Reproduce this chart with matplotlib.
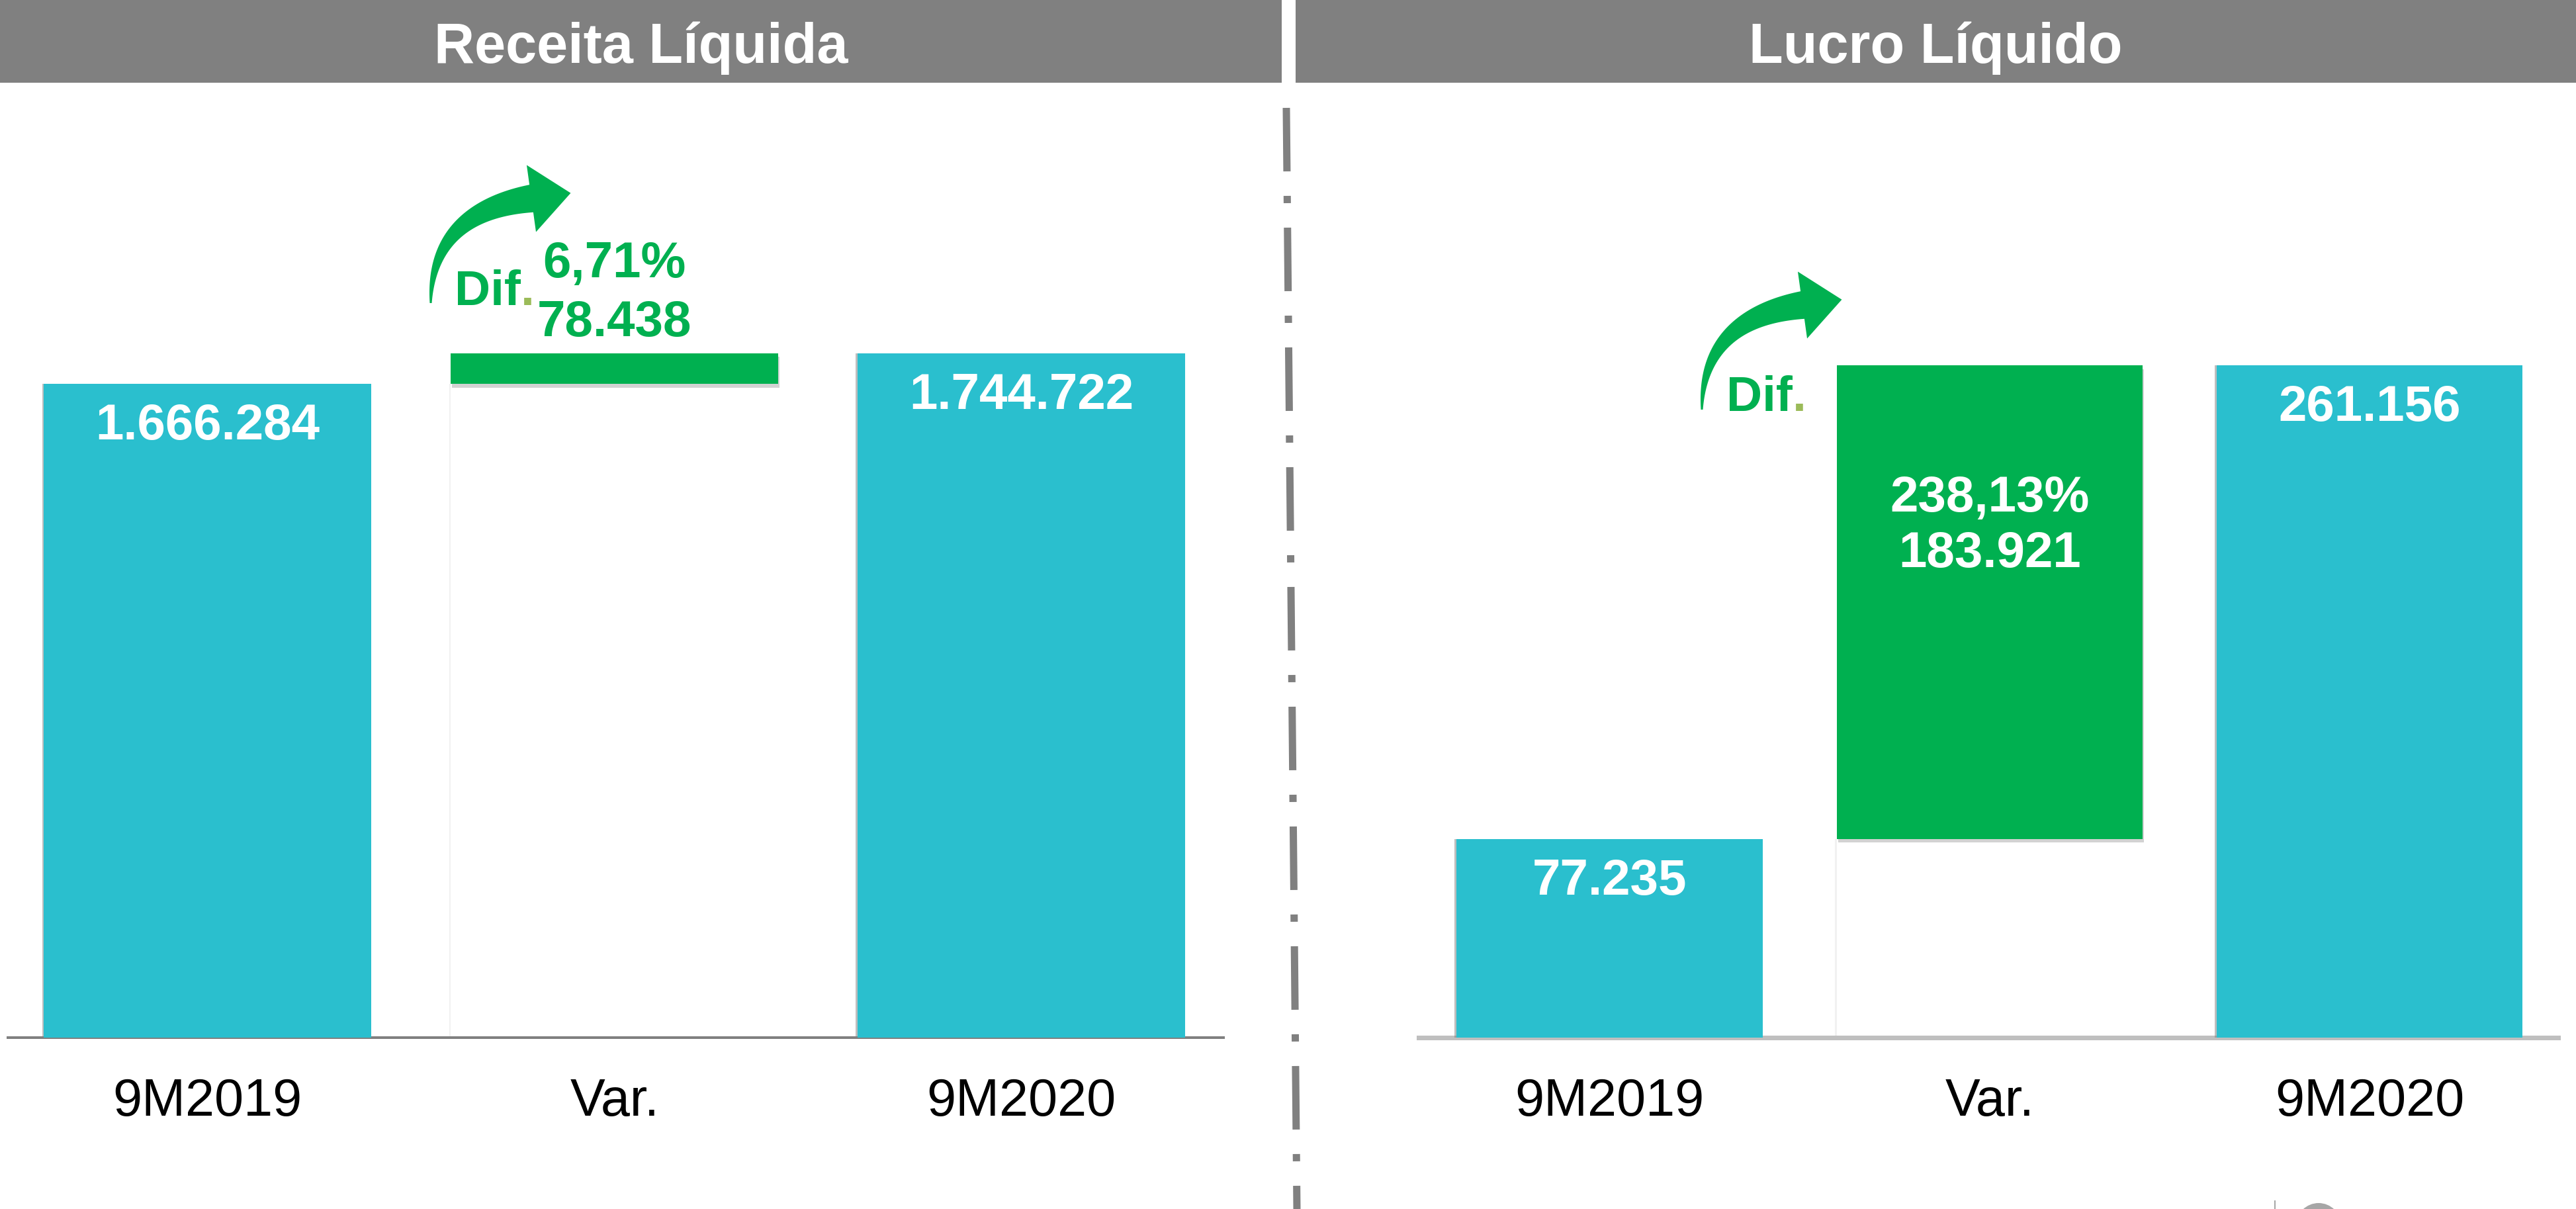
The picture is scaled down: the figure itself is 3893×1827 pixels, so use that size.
import matplotlib
matplotlib.use('Agg')
import matplotlib.pyplot as plt
from matplotlib.patches import Rectangle, Polygon, Ellipse
from matplotlib.lines import Line2D
import matplotlib.patheffects as pe
import numpy as np

# ---------------- data ----------------
categories = ['9M2019', 'Var.', '9M2020']
receita_vals = [1666284, 78438, 1744722]     # start, variation, end
receita_pct = '6,71%'
lucro_vals = [77235, 183921, 261156]         # start, variation, end
lucro_pct = '238,13%'
titles = ['Receita Líquida', 'Lucro Líquido']

# ---------------- style ----------------
W, H, DPI = 3893, 1827, 100
TEAL = '#2ABFCE'
GREEN = '#00B050'
GRAY = '#808080'
DOT = '#9BBB59'

plt.rcParams['font.family'] = ['Liberation Sans', 'DejaVu Sans']
plt.rcParams['lines.scale_dashes'] = False

fig = plt.figure(figsize=(W / DPI, H / DPI), dpi=DPI)
fig.patch.set_facecolor('white')


def fx(x):
    return x / W


def fy(y):
    return 1 - y / H


def pt(px):
    return px * 72 / DPI


def fmt(v):
    return f"{v:,}".replace(',', '.')


# ---------------- headers ----------------
for x0, x1, title in [(0, 1937, titles[0]), (1958, W, titles[1])]:
    fig.add_artist(Rectangle((fx(x0), fy(125)), fx(x1 - x0), 125 / H,
                             transform=fig.transFigure, color=GRAY, lw=0))
    fig.text(fx((x0 + x1) / 2), fy(95), title, ha='center', va='baseline',
             color='white', fontsize=61, fontweight='bold')

# dash-dot divider (slightly slanted, as in the original slide)
fig.add_artist(Line2D([fx(1944), fx(1960)], [fy(163), fy(H)], transform=fig.transFigure,
                      color=GRAY, lw=pt(11), dashes=(pt(96), pt(37), pt(11), pt(37)),
                      dash_capstyle='butt'))


def waterfall(ax, vals, pct, ymax, xlim, spine_color, spine_px, label_inside):
    start, delta, end = vals
    x = np.arange(len(categories))
    bw = 0.805
    sh_teal = [pe.SimplePatchShadow(offset=(-2, 0), shadow_rgbFace='#7f7f7f', alpha=0.5), pe.Normal()]
    sh_green = [pe.SimplePatchShadow(offset=(1.5, -4), shadow_rgbFace='#7f7f7f', alpha=0.35), pe.Normal()]
    sh_white = [pe.SimplePatchShadow(offset=(-1.5, 0), shadow_rgbFace='#7f7f7f', alpha=0.1), pe.Normal()]
    ax.bar(x[1], start, width=bw, color='white', zorder=2, path_effects=sh_white)
    ax.bar([x[0], x[2]], [start, end], width=bw, color=TEAL, zorder=3, path_effects=sh_teal)
    ax.bar(x[1], delta, bottom=start, width=bw, color=GREEN, zorder=3, path_effects=sh_green)

    for xi, v in [(x[0], start), (x[2], end)]:
        ax.annotate(fmt(v), xy=(xi, v), xytext=(0, -pt(84)), textcoords='offset points',
                    ha='center', va='baseline', color='white', fontsize=55, fontweight='bold')
    top = start + delta
    if label_inside:
        offs, col = (-pt(221), -pt(305)), 'white'
    else:
        offs, col = (pt(115), pt(26)), GREEN
    for txt, off in zip([pct, fmt(delta)], offs):
        ax.annotate(txt, xy=(x[1], top), xytext=(0, off), textcoords='offset points',
                    ha='center', va='baseline', color=col, fontsize=55, fontweight='bold')

    ax.set_xlim(*xlim)
    ax.set_ylim(0, ymax)
    ax.set_xticks(x, categories)
    ax.tick_params(axis='x', length=0, pad=pt(60), labelsize=57, labelcolor='black')
    ax.set_yticks([])
    for s in ['left', 'right', 'top']:
        ax.spines[s].set_visible(False)
    ax.spines['bottom'].set_color(spine_color)
    ax.spines['bottom'].set_linewidth(pt(spine_px))
    ax.spines['bottom'].set_zorder(2.5)
    ax.set_facecolor('none')


axL = fig.add_axes([fx(12), fy(1568), fx(1849 - 12), (1568 - 150) / H])
waterfall(axL, receita_vals, receita_pct, 1418 / 5.928e-4, (-0.491, 2.497), GRAY, 4, False)

axR = fig.add_axes([fx(2144), fy(1568), fx(3866 - 2144), (1568 - 150) / H])
waterfall(axR, lucro_vals, lucro_pct, 1418 / 3.890e-3, (-0.502, 2.496), '#BFBFBF', 7, True)


# ---------------- curved "Dif." arrows ----------------
def curved_arrow(tx, ty):
    P0 = np.array([tx, ty], float)
    P1 = P0 + [1, -137]
    P2 = P0 + [152, -158]
    t = np.linspace(0, 1, 80)[:, None]
    B = (1 - t) ** 2 * P0 + 2 * (1 - t) * t * P1 + t ** 2 * P2
    D = 2 * (1 - t) * (P1 - P0) + 2 * t * (P2 - P1)
    D = D / np.linalg.norm(D, axis=1)[:, None]
    N = np.column_stack([D[:, 1], -D[:, 0]])
    w = (3 + 39 * t[:, 0]) / 2
    outer = B + N * w[:, None]
    inner = B - N * w[:, None]
    de, ne = D[-1], N[-1]
    head = np.array([P2 + 51 * ne, P2 + 60 * de, P2 - 51 * ne])
    pts = np.vstack([outer, head, inner[::-1]])
    pts_fig = np.column_stack([pts[:, 0] / W, 1 - pts[:, 1] / H])
    fig.add_artist(Polygon(pts_fig, closed=True, transform=fig.transFigure,
                           facecolor=GREEN, edgecolor='none'))


def dif_label(x, y):
    t = fig.text(fx(x), fy(y), 'Dif', ha='left', va='bottom', color=GREEN,
                 fontsize=54, fontweight='bold')
    plt.annotate('.', xy=(1, 0), xycoords=t, ha='left', va='bottom', color=DOT,
                 fontsize=54, fontweight='bold', annotation_clip=False)


curved_arrow(651, 458)
curved_arrow(651 + 1921, 458 + 161)
dif_label(687, 476)
dif_label(2609, 636)

# small cut-off logo at bottom right
fig.add_artist(Line2D([fx(3438), fx(3438)], [fy(1815), fy(H)], transform=fig.transFigure,
                      color='#A6A6A6', lw=pt(2)))
fig.add_artist(Ellipse((fx(3504), fy(1852)), 68 / W, 68 / H, transform=fig.transFigure,
                       color='#A6A6A6', lw=0))

fig.savefig('out.png', dpi=DPI)
